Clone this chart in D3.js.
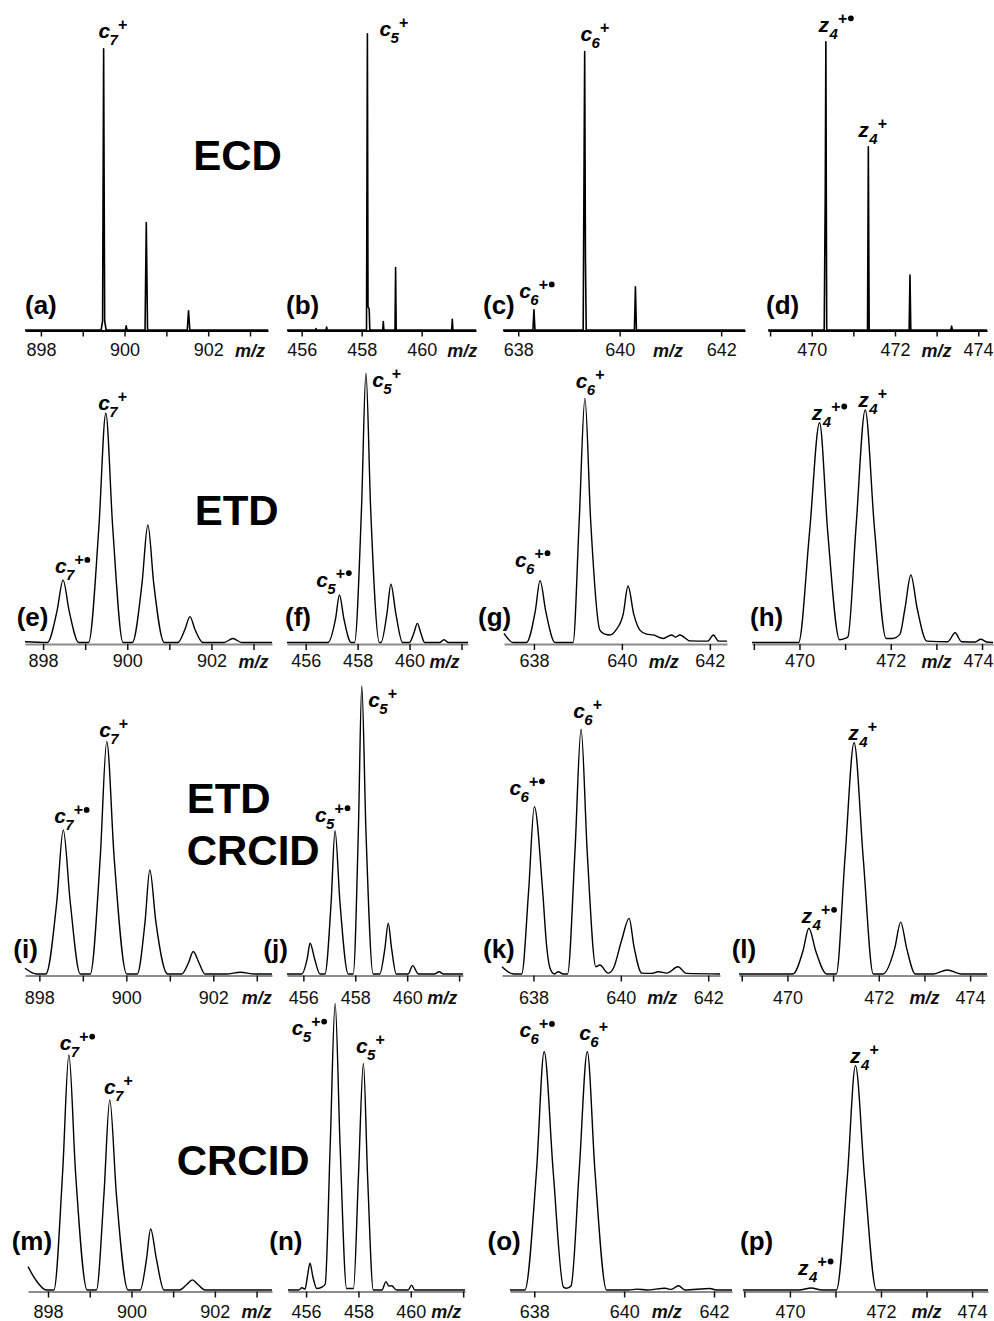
<!DOCTYPE html>
<html>
<head>
<meta charset="utf-8">
<script src="https://cdn.jsdelivr.net/npm/d3@7"></script>
<style>
  body { margin: 0; background: #fff; }
  svg { display: block; }
</style>
</head>
<body>
<div id="fig"></div>
<script>
const FONT = '"Liberation Sans", Arial, Helvetica, sans-serif';

// ---- data ----
const methods = [["ECD"], ["ETD"], ["ETD", "CRCID"], ["CRCID"]];
const panelTags = ["a","b","c","d","e","f","g","h","i","j","k","l","m","n","o","p"];

// m/z range shown in each panel (row by row)
const mzRanges = [
  [897.62, 903.43], [455.51, 461.81], [637.70, 642.47], [468.95, 474.21],
  [897.57, 903.44], [455.28, 462.25], [637.32, 642.39], [468.96, 474.24],
  [897.67, 903.35], [455.37, 462.15], [637.28, 642.27], [468.94, 474.37],
  [897.52, 903.37], [455.31, 462.07], [637.46, 642.40], [468.97, 474.35]
];
// ticks and labelled ticks per column
const tickMz  = [[898,899,900,901,902,903], [456,458,460,462], [638,640,642], [469,470,471,472,473,474]];
const labelMz = [[898,900,902], [456,458,460], [638,640,642], [470,472,474]];
const mzTitleAt = [903.0, 461.35, 640.95, 473.0];

// spectra: [m/z, relative intensity]
const specA = [[897.62,0],[899.44,0],[899.475,3],[899.50,93.7],[899.525,3],[899.56,0],[900.02,0],[900.04,1.4],[900.06,0],
  [900.49,0],[900.52,35.8],[900.55,0],[901.50,0],[901.53,6.4],[901.56,0],[903.43,0]];
const specB = [[455.51,0],[456.46,0],[456.48,0.5],[456.5,0],[456.81,0],[456.83,1],[456.85,0],[458.16,0],[458.19,98.7],
  [458.21,7.8],[458.25,7],[458.27,0],[458.70,0],[458.72,2.8],[458.74,0],[459.11,0],[459.13,20.8],[459.15,0],
  [461.00,0],[461.02,3.6],[461.04,0],[461.81,0]];
const specC = [[637.70,0],[638.29,0],[638.31,6.7],[638.33,0],[639.28,0],[639.31,92.8],[639.325,24],[639.34,0],
  [640.29,0],[640.31,14.4],[640.33,0],[642.47,0]];
const specD = [[468.95,0],[470.30,0],[470.325,45.7],[470.34,96.1],[470.36,0],[471.34,0],[471.36,61.1],[471.38,0],
  [472.34,0],[472.36,18.3],[472.38,0],[473.34,0],[473.36,1.3],[473.38,0],[474.21,0]];

const specE = [[897.57,0.3],[898.1,0],[898.33,11.6],[898.475,23.1],[898.62,11.6],[898.85,0],[899.08,0],[899.325,42.5],
  [899.49,84.9],[899.655,42.5],[899.9,0],[900.12,0],[900.35,21.8],[900.49,43.5],[900.63,21.8],[900.88,0],[901.2,0],
  [901.37,4.8],[901.49,9.6],[901.61,4.8],[901.8,0],[902.3,0],[902.51,1.5],[902.72,0],[903.44,0]];
const specF = [[455.28,0],[456.86,0],[457.15,8.8],[457.30,17.6],[457.47,8.8],[457.75,0],[457.88,0],[458.15,49.9],
  [458.32,99.7],[458.50,49.9],[458.84,0],[458.9,0],[459.13,10.8],[459.28,21.6],[459.47,10.8],[459.73,0],[459.99,0],
  [460.17,3.6],[460.30,7.1],[460.43,3.6],[460.58,0],[461.15,0],[461.33,1],[461.5,0],[462.25,0]];
const specG = [[637.32,3.4],[637.53,0],[637.83,0],[638.03,11.5],[638.14,22.9],[638.27,11.5],[638.48,0],[638.89,0],
  [639.03,45.2],[639.16,90.4],[639.29,45.2],[639.5,4.6],[639.61,3.1],[639.73,2.8],[639.86,4.5],[640.03,10.5],
  [640.14,20.9],[640.27,10.5],[640.41,4.6],[640.56,3.1],[640.71,2.8],[640.94,1.5],[641.13,2.8],[641.22,2],
  [641.32,2.8],[641.55,0.6],[641.95,0.5],[642.08,2.8],[642.2,0.5],[642.39,0.5]];
const specH = [[468.96,0],[469.98,0],[470.22,40.7],[470.44,81.4],[470.62,40.7],[470.88,1],[471.0,1.5],[471.06,2],
  [471.24,43],[471.44,86.1],[471.64,43],[471.9,1.5],[472.04,1.5],[472.2,3],[472.31,12.5],[472.44,25],[472.58,12.5],
  [472.79,0.5],[473.25,0.3],[473.41,3.6],[473.55,0.3],[473.85,0.2],[473.97,1.2],[474.1,0.2],[474.24,0]];

const specI = [[897.67,2],[897.94,0],[898.15,0],[898.40,25],[898.55,50],[898.71,25],[898.94,0],[899.17,0],[899.40,40.4],
  [899.55,80.7],[899.72,40.4],[900.01,0],[900.25,0],[900.43,18],[900.54,36.1],[900.68,18],[900.95,0],[901.27,0],
  [901.43,3.9],[901.54,7.8],[901.67,3.9],[901.81,0],[902.3,0],[902.62,0.6],[902.95,0],[903.35,0]];
const specJ = [[455.37,0],[455.94,0],[456.15,5.4],[456.26,10.7],[456.43,5.4],[456.64,0],[456.83,0],[457.07,24.9],
  [457.22,49.8],[457.41,24.9],[457.73,0],[457.92,0],[458.12,50],[458.25,100],[458.41,50],[458.69,0],[458.94,0],
  [459.14,8.8],[459.27,17.6],[459.4,8.8],[459.58,0],[460.04,0],[460.21,2.9],[460.43,0],[461.05,0],[461.23,0.8],
  [461.4,0],[462.15,0]];
const specK = [[637.28,2.5],[637.54,0],[637.73,0],[637.89,29],[638.02,58.1],[638.21,29],[638.3,10],[638.38,2],[638.48,0],
  [638.57,0.8],[638.68,0],[638.78,0],[638.95,42.5],[639.09,85],[639.23,42.5],[639.43,2.5],[639.52,3.1],[639.71,0.3],
  [639.83,2],[640.02,11.8],[640.19,19.3],[640.3,9.6],[640.48,0.3],[640.7,0.2],[640.86,0.8],[641.05,0.3],[641.31,2.5],
  [641.5,0.2],[642.27,0]];
const specL = [[468.94,0],[470.12,0],[470.34,8],[470.47,15.9],[470.62,8],[470.86,0],[471.07,0],[471.26,40.2],
  [471.46,80.3],[471.66,40.2],[471.88,0],[472.09,0],[472.35,9],[472.48,18],[472.61,9],[472.8,0],[473.2,0],
  [473.5,1.4],[473.8,0],[474.37,0]];

const specM = [[897.52,8.1],[897.72,3.2],[897.96,0],[898.14,0],[898.35,40.8],[898.50,81.6],[898.66,40.8],[898.94,0],
  [899.16,0],[899.34,33],[899.48,66],[899.64,33],[899.92,0],[900.21,0],[900.36,10.6],[900.46,21.2],[900.6,10.6],
  [900.78,0],[901.16,0],[901.32,1.8],[901.46,3.5],[901.6,1.8],[901.76,0],[903.37,0]];
const specN = [[455.31,0],[455.72,0],[455.84,0.8],[455.96,0.3],[456.05,4.6],[456.15,9.3],[456.26,4.6],[456.41,0.5],
  [456.6,1],[456.73,2],[456.92,49.8],[457.11,99.5],[457.3,49.8],[457.55,0.5],[457.81,0.5],[458.0,39.4],[458.19,78.7],
  [458.35,39.4],[458.57,0],[458.9,0],[459.05,2.9],[459.16,1.4],[459.27,1.5],[459.45,0],[459.9,0],[460.03,1.7],
  [460.15,0],[462.07,0]];
const specO = [[637.46,0],[637.79,0],[638.05,41.4],[638.22,82.7],[638.42,41.4],[638.65,1],[638.72,0.6],[638.82,1.5],
  [639.0,41.4],[639.18,82.7],[639.35,41.4],[639.61,0],[640.1,0],[640.28,0.3],[640.5,0],[640.91,0.6],[641.05,0.2],
  [641.21,1.5],[641.35,0],[641.91,0.5],[642.05,0],[642.40,0]];
const specP = [[468.97,0],[470.2,0],[470.47,0.7],[470.7,0],[471.02,0],[471.26,39],[471.44,77.9],[471.64,39],
  [471.9,0],[474.35,0]];

const spectra = [specA, specB, specC, specD, specE, specF, specG, specH,
                 specI, specJ, specK, specL, specM, specN, specO, specP];

// ion annotations: [panel, ion, index, radical, label m/z, label intensity]
const ionLabels = [
  [0,"c","7",false,899.38,97.2], [1,"c","5",false,458.59,98], [2,"c","6",false,639.23,96.4],
  [2,"c","6",true,638.02,10.7], [3,"z","4",true,470.16,99.4], [3,"z","4",false,471.12,64.4],
  [4,"c","7",true,898.28,25.6], [4,"c","7",false,899.31,86.1], [5,"c","5",true,456.41,20.7],
  [5,"c","5",false,458.56,94.7], [6,"c","6",true,637.57,28.1], [6,"c","6",false,638.95,94.1],
  [7,"z","4",true,470.27,82.4], [7,"z","4",false,471.29,87.3],
  [8,"c","7",true,898.34,52.3], [8,"c","7",false,899.38,82.4], [9,"c","5",true,456.45,52.9],
  [9,"c","5",false,458.5,92.8], [10,"c","6",true,637.45,62.2], [10,"c","6",false,638.91,88.8],
  [11,"z","4",true,470.31,17.6], [11,"z","4",false,471.33,81.25],
  [12,"c","7",true,898.28,83.3], [12,"c","7",false,899.34,68.1], [13,"c","5",true,455.45,88.5],
  [13,"c","5",false,457.91,82.2], [14,"c","6",true,637.67,87.7], [14,"c","6",false,639.0,86.8],
  [15,"z","4",true,470.18,5.2], [15,"z","4",false,471.32,78.7]
];

// ---- layout ----
const W = 994, H = 1321;
const panelPx = [
  [25, 268], [287, 476], [503, 745], [768, 987],
  [25, 272], [287, 468], [504, 727], [752, 993],
  [25, 272], [287, 463], [502, 720], [739, 987],
  [28, 272], [288, 465], [510, 732], [743, 988]
];
const rows = [
  {base: 330,   unit: 3.0,  axisY: 330.5,  axisColor: "#000",    labelDrop: 26,   tagY: 314},
  {base: 642.5, unit: 2.7,  axisY: 644,    axisColor: "#8c8c8c", labelDrop: 23.5, tagY: 626},
  {base: 974,   unit: 2.88, axisY: 975.5,  axisColor: "#8c8c8c", labelDrop: 28.5, tagY: 958},
  {base: 1290,  unit: 2.88, axisY: 1291.5, axisColor: "#8c8c8c", labelDrop: 26.5, tagY: 1250}
];
const tagX = [25, 286, 483, 766, 16.7, 285, 478, 750, 13.3, 263.3, 483, 731.7, 11.7, 269.3, 487.5, 740];
const methodPos = [
  {x: 237.5, anchor: "middle", y: [170]},
  {x: 236.7, anchor: "middle", y: [525]},
  {x: 186.7, anchor: "start",  y: [813.3, 865]},
  {x: 176.7, anchor: "start",  y: [1175]}
];

const svg = d3.select("#fig").append("svg")
  .attr("width", W).attr("height", H)
  .style("font-family", FONT);

svg.append("rect").attr("width", W).attr("height", H).attr("fill", "#fff");

const xScales = [], yScales = [];

spectra.forEach((spec, i) => {
  const r = Math.floor(i / 4), c = i % 4;
  const row = rows[r];
  const dom = mzRanges[i];

  const x = d3.scaleLinear().domain(dom).range(panelPx[i]);
  const y = d3.scaleLinear().domain([0, 100]).range([row.base, row.base - 100 * row.unit]);
  xScales.push(x); yScales.push(y);

  // axis
  const ticks = tickMz[c].filter(t => t >= dom[0] && t <= dom[1]);
  const xAxis = d3.axisBottom(x)
    .tickValues(ticks)
    .tickSize(6)
    .tickSizeOuter(0)
    .tickPadding(row.labelDrop - 18.8)
    .tickFormat(d => labelMz[c].includes(d) ? d : "");

  svg.append("g")
    .attr("transform", `translate(0,${row.axisY})`)
    .call(xAxis)
    .attr("font-size", 18)
    .attr("font-family", FONT)
    .call(g => g.select(".domain").attr("stroke", row.axisColor).attr("stroke-width", 2.2))
    .call(g => g.selectAll(".tick line").attr("stroke", "#111").attr("stroke-width", 1.5))
    .call(g => g.selectAll(".tick text").attr("fill", "#111")
      .each(function(d) {
        // keep labels at the page's right edge inside the picture
        const len = this.getComputedTextLength();
        if (x(d) + len / 2 > W - 1) {
          d3.select(this).attr("text-anchor", "end").attr("x", W - 1 - x(d));
        }
      }));

  // m/z title
  svg.append("text")
    .attr("x", x(mzTitleAt[c]))
    .attr("y", row.axisY + row.labelDrop)
    .attr("text-anchor", "middle")
    .attr("font-size", 18)
    .attr("font-weight", "bold")
    .attr("font-style", "italic")
    .attr("fill", "#111")
    .text("m/z");

  // spectrum trace
  const line = d3.line()
    .x(d => x(d[0]))
    .y(d => y(d[1]))
    .curve(r === 0 ? d3.curveLinear : d3.curveMonotoneX);

  svg.append("path")
    .datum(spec)
    .attr("fill", "none")
    .attr("stroke", "#000")
    .attr("stroke-width", r === 0 ? 1.6 : 1.4)
    .attr("stroke-linejoin", "round")
    .attr("d", line);

  // panel tag
  svg.append("text")
    .attr("x", tagX[i])
    .attr("y", row.tagY)
    .attr("font-size", 26)
    .attr("font-weight", "bold")
    .attr("fill", "#000")
    .text(`(${panelTags[i]})`);
});

// method names
methods.forEach((lines, r) => {
  const p = methodPos[r];
  lines.forEach((t, k) => {
    svg.append("text")
      .attr("x", p.x)
      .attr("y", p.y[k])
      .attr("text-anchor", p.anchor)
      .attr("font-size", 42)
      .attr("font-weight", "bold")
      .attr("fill", "#000")
      .text(t);
  });
});

// ion labels
ionLabels.forEach(([pi, ion, idx, radical, mz, inten]) => {
  const g = svg.append("g")
    .attr("transform", `translate(${xScales[pi](mz)},${yScales[pi](inten)})`)
    .attr("fill", "#000");
  g.append("text")
    .attr("font-size", 21).attr("font-weight", "bold").attr("font-style", "italic")
    .text(ion);
  g.append("text")
    .attr("x", ion === "z" ? 11 : 11).attr("y", 7)
    .attr("font-size", 15).attr("font-weight", "bold").attr("font-style", "italic")
    .text(idx);
  g.append("text")
    .attr("x", 19.5).attr("y", -8)
    .attr("font-size", 16).attr("font-weight", "bold")
    .text("+");
  if (radical) {
    g.append("circle").attr("cx", 32.5).attr("cy", -13.5).attr("r", 2.9);
  }
});
</script>
</body>
</html>
